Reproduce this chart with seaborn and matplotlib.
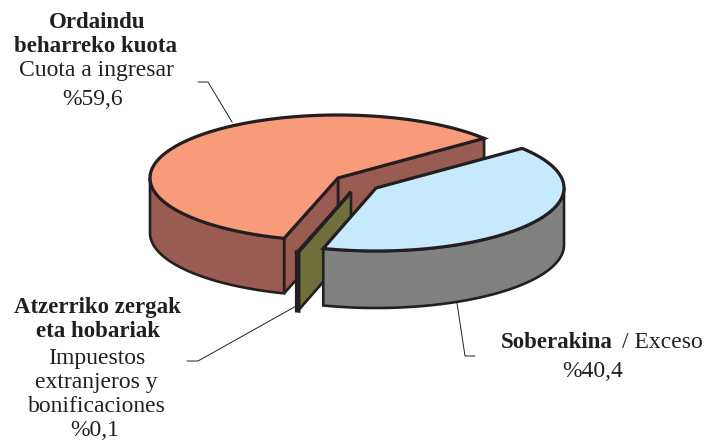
import numpy as np
import matplotlib
matplotlib.use("Agg")
import matplotlib.pyplot as plt
import seaborn as sns

# data
slice_names = ["Ordaindu beharreko kuota", "Atzerriko zergak eta hobariak", "Soberakina"]
slice_values = [59.6, 0.1, 40.4]
top_colors = ["#F79B7A", "#6F6F3C", "#C6E9FB"]
side_colors = ["#9A5B52", "#6F6F3C", "#808080"]
wall_colors = ["#9A5B52", "#231F20", "#808080"]

# layout (pixels)
centers = [(338, 178), (351, 192), (376, 188)]
depths = [55, 58, 57]
wall_widths = [1.9, 3.2, 1.9]
RX, RY = 188, 63
START = 39.0
INK = "#231F20"
LW = 1.9

sns.set_theme(style="white")
plt.rcParams["font.family"] = ["Liberation Serif", "DejaVu Serif"]

fig, ax = plt.subplots(figsize=(7.06, 4.41), dpi=100)
ax.set_position([0, 0, 1, 1])
ax.set_xlim(0, 706)
ax.set_ylim(441, 0)
ax.axis("off")


def pt(c, t):
    r = np.radians(t)
    return c[0] + RX * np.cos(r), c[1] - RY * np.sin(r)


def draw_wedge(c, t0, t1, top, side, wall, depth, wall_lw):
    # radial faces that turn towards the viewer
    for t, normal in ((t0, t0 - 90), (t1, t1 + 90)):
        if np.sin(np.radians(normal)) < 0:
            x, y = pt(c, t)
            ax.fill([c[0], x, x, c[0]], [c[1], y, y + depth, c[1] + depth],
                    facecolor=side, edgecolor=INK, lw=LW, joinstyle="miter")
    # outer wall for the front half of the rim
    a, b = max(t0, 180), min(t1, 360)
    if b > a:
        ts = np.linspace(a, b, 80)
        xs, ys = pt(c, ts)
        ax.fill(np.r_[xs, xs[::-1]], np.r_[ys, ys[::-1] + depth],
                facecolor=wall, edgecolor=INK, lw=wall_lw, joinstyle="miter")
    # top face
    ts = np.linspace(t0, t1, 160)
    xs, ys = pt(c, ts)
    ax.fill(np.r_[c[0], xs], np.r_[c[1], ys],
            facecolor=top, edgecolor=INK, lw=LW + 0.4, joinstyle="miter")


angles = np.array(slice_values) / sum(slice_values) * 360
edges = START + np.r_[0, np.cumsum(angles)]
for i in range(len(slice_values)):
    draw_wedge(centers[i], edges[i], edges[i + 1], top_colors[i], side_colors[i],
               wall_colors[i], depths[i], wall_widths[i])

# leader lines
for xs, ys in (([198, 208, 232], [82, 82, 122]),
               ([187, 198, 298], [361, 361, 305]),
               ([457, 465, 475], [303, 356, 356])):
    ax.plot(xs, ys, color=INK, lw=0.7, solid_joinstyle="miter")

FS = 17
FS_BOLD = 16.5
labels = [
    ("Ordaindu", 97, 28, "bold"), ("beharreko kuota", 96, 52, "bold"),
    ("Cuota a ingresar", 96, 76, "normal"), ("%59,6", 93, 105, "normal"),
    ("Atzerriko zergak", 97, 313, "bold"), ("eta hobariak", 98, 337, "bold"),
    ("Impuestos", 97, 364, "normal"), ("extranjeros y", 96, 388, "normal"),
    ("bonificaciones", 97, 412, "normal"), ("%0,1", 95, 436, "normal"),
    ("%40,4", 593, 377, "normal"),
]
for s, x, y, w in labels:
    ax.text(x, y, s, ha="center", va="baseline", color=INK, fontweight=w,
            fontsize=FS_BOLD if w == "bold" else FS)
ax.text(613, 348, "Soberakina", ha="right", va="baseline", fontsize=FS_BOLD, fontweight="bold", color=INK)
ax.text(622, 348, "/ Exceso", ha="left", va="baseline", fontsize=FS, color=INK)

fig.savefig("out.png", dpi=100, facecolor="white")
